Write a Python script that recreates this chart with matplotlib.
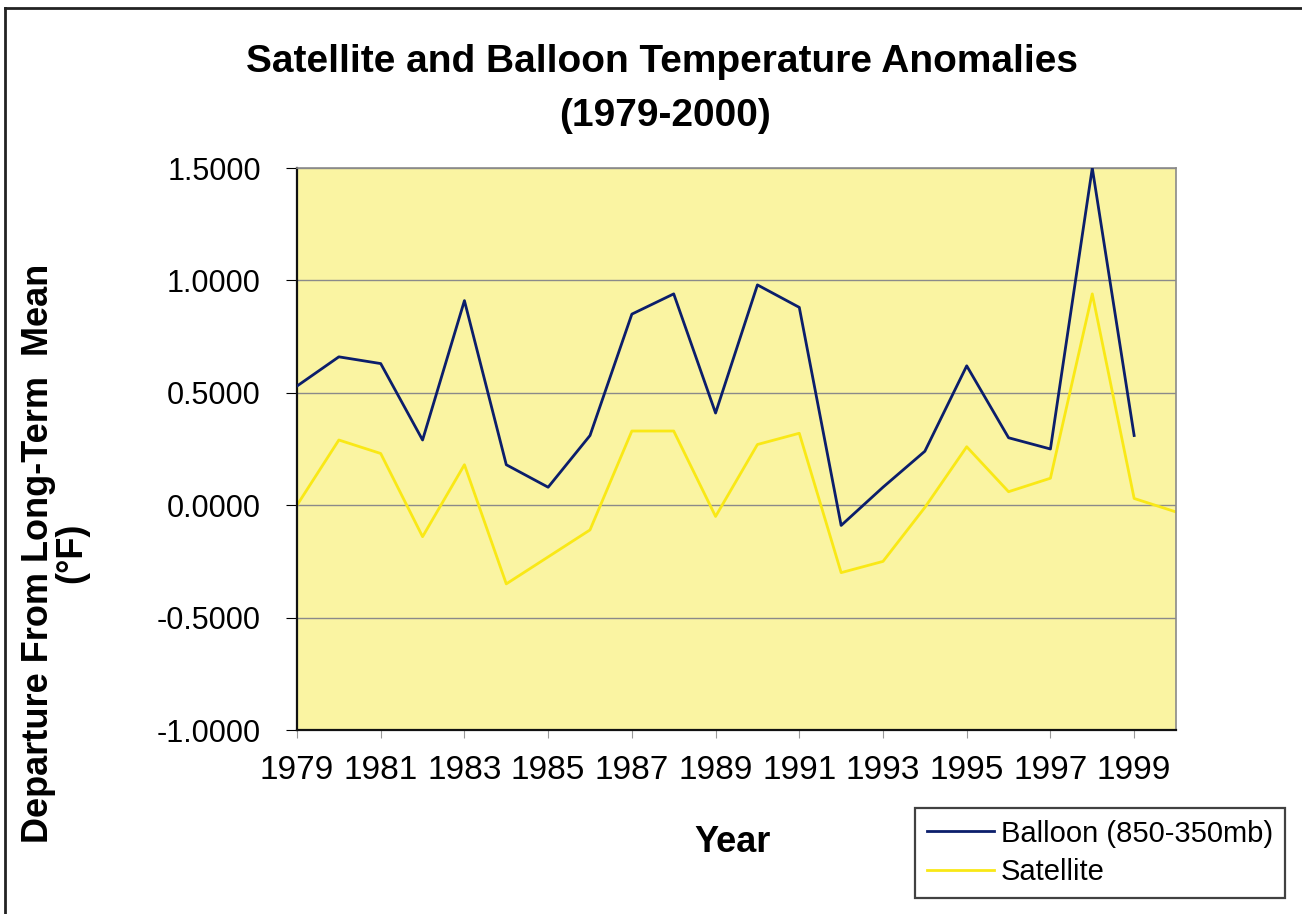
import matplotlib.pyplot as plt
from matplotlib.lines import Line2D

years = list(range(1979, 2001))
balloon = [0.53, 0.66, 0.63, 0.29, 0.91, 0.18, 0.08, 0.31, 0.85, 0.94, 0.41,
           0.98, 0.88, -0.09, 0.08, 0.24, 0.62, 0.30, 0.25, 1.50, 0.31, None]
satellite = [0.00, 0.29, 0.23, -0.14, 0.18, -0.35, -0.23, -0.11, 0.33, 0.33, -0.05,
             0.27, 0.32, -0.30, -0.25, -0.01, 0.26, 0.06, 0.12, 0.94, 0.03, -0.03]
yticks = [-1.0, -0.5, 0.0, 0.5, 1.0, 1.5]

W, H = 1302, 914
fig = plt.figure(figsize=(W / 100, H / 100), dpi=100)
plt.rcParams['font.family'] = ['Liberation Sans', 'DejaVu Sans']

# axes box in pixel terms
left, right, top, bottom = 297, 1176, 168, 730
ax = fig.add_axes([left / W, 1 - bottom / H, (right - left) / W, (bottom - top) / H])
ax.set_facecolor('#FAF4A2')

idx = list(range(len(years)))
b_x = [i for i, v in zip(idx, balloon) if v is not None]
b_y = [v for v in balloon if v is not None]
ax.plot(b_x, b_y, color='#0B1E6B', lw=2.0, zorder=3)
ax.plot(idx, satellite, color='#F9E816', lw=2.0, zorder=2)

ax.set_xlim(0, len(years) - 1)
ax.set_ylim(-1.0, 1.5)
ax.set_yticks(yticks)
ax.set_yticklabels([f'{t:.4f}' for t in yticks])
ax.set_xticks(idx[::2])
ax.set_xticklabels([str(y) for y in years[::2]])
ax.tick_params(axis='y', labelsize=22, length=8, direction='out', pad=18)
ax.tick_params(axis='x', labelsize=24, length=6, direction='out', pad=12,
               color='#999999')
ax.grid(axis='y', color='#8A8A8A', lw=1.0)
ax.set_axisbelow(True)
for s in ('top', 'right'):
    ax.spines[s].set_color('#8A8A8A')
    ax.spines[s].set_linewidth(1.2)
for s in ('left', 'bottom'):
    ax.spines[s].set_color('#111111')
    ax.spines[s].set_linewidth(1.6)

fig.text(662 / W, 1 - 62 / H, 'Satellite and Balloon Temperature Anomalies',
         ha='center', va='center', fontsize=28, fontweight='bold')
fig.text(665 / W, 1 - 116 / H, '(1979-2000)',
         ha='center', va='center', fontsize=28, fontweight='bold')
fig.text(733 / W, 1 - 843 / H, 'Year', ha='center', va='center',
         fontsize=26, fontweight='bold')
fig.text(55 / W, 1 - 553 / H, 'Departure From Long-Term  Mean\n(°F)',
         rotation=90, ha='center', va='center', multialignment='center',
         fontsize=26, fontweight='bold', linespacing=0.95)

handles = [Line2D([], [], color='#0B1E6B', lw=2.0),
           Line2D([], [], color='#F9E816', lw=2.0)]
leg = fig.legend(handles, ['Balloon (850-350mb)', 'Satellite'],
                 loc='upper left', bbox_to_anchor=(915 / W, 1 - 808 / H),
                 fontsize=21, frameon=True, fancybox=False, shadow=False,
                 handlelength=2.3, handletextpad=0.25, borderpad=0.4,
                 labelspacing=0.35, borderaxespad=0)
leg.get_frame().set_edgecolor('#111111')
leg.get_frame().set_linewidth(1.6)

# outer chart border (left and top edges)
fig.add_artist(Line2D([5 / W, 5 / W], [0, 1 - 8 / H], color='#222222', lw=2.0))
fig.add_artist(Line2D([5 / W, 1], [1 - 8 / H, 1 - 8 / H], color='#222222', lw=2.0))

fig.savefig('out.png', dpi=100)
